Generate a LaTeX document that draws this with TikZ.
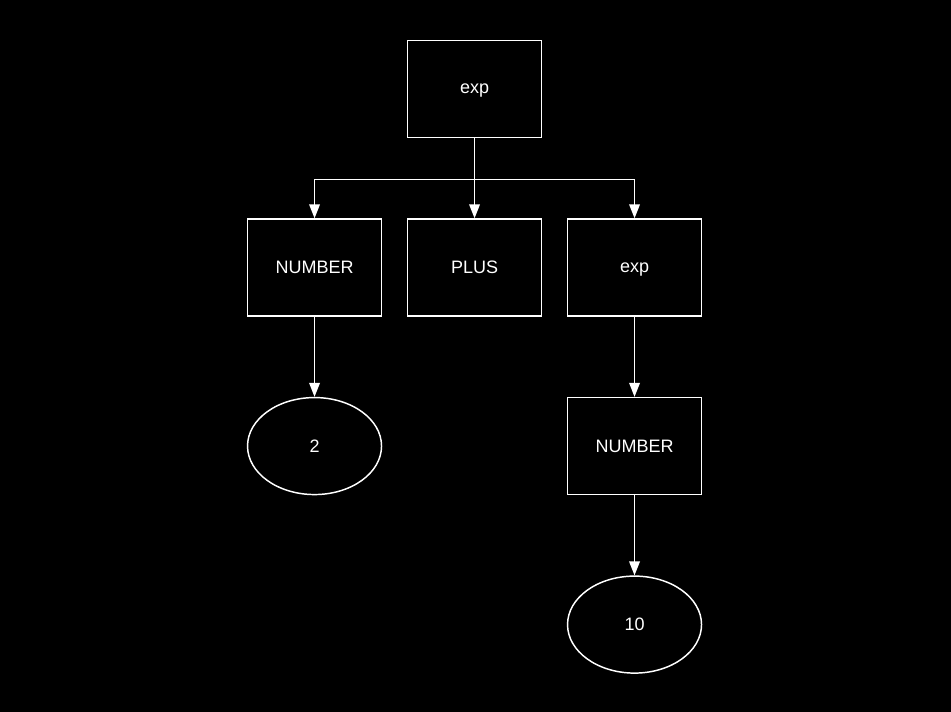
\documentclass[tikz,border=0pt]{standalone}
\usepackage{fontspec}
\setmainfont{Liberation Sans}
\usetikzlibrary{arrows.meta,positioning,shapes.geometric}

\begin{document}
\begin{tikzpicture}[>={Triangle[length=10.5pt,width=8pt]}, line width=1.1pt,
    node distance=133.9pt and 120pt, on grid,
    every node/.style={font=\fontsize{13.5pt}{16pt}\selectfont, text=white, text depth=0pt},
    box/.style={draw=white, rectangle, minimum width=100.5pt, minimum height=72.75pt, inner sep=0pt},
    leaf/.style={draw=white, ellipse, minimum width=100.5pt, minimum height=72.75pt, inner sep=0pt}]
        \fill[black] (0,0) rectangle (713.25pt,-534pt);
        \useasboundingbox (0,0) rectangle (713.25pt,-534pt);

        \node[box] (exp) at (355.9pt,-66.75pt) {exp};
        \node[box] (plus) [below = of exp] {PLUS};
        \node[box] (num1) [left = of plus] {NUMBER};
        \node[box] (exp2) [right = of plus] {exp};
        \node[leaf] (two) [below = of num1] {2};
        \node[box] (num2) [below = of exp2] {NUMBER};
        \node[leaf] (ten) [below = of num2] {10};
        \coordinate[below = 31pt of exp.south] (fork);

        \draw[white] (exp.south) -- (fork);
        \draw[->, white] (fork) -| (num1.north);
        \draw[->, white] (fork) -- (plus.north);
        \draw[->, white] (fork) -| (exp2.north);
        \draw[->, white] (num1) -- (two);
        \draw[->, white] (exp2) -- (num2);
        \draw[->, white] (num2) -- (ten);
      \end{tikzpicture}
\end{document}
